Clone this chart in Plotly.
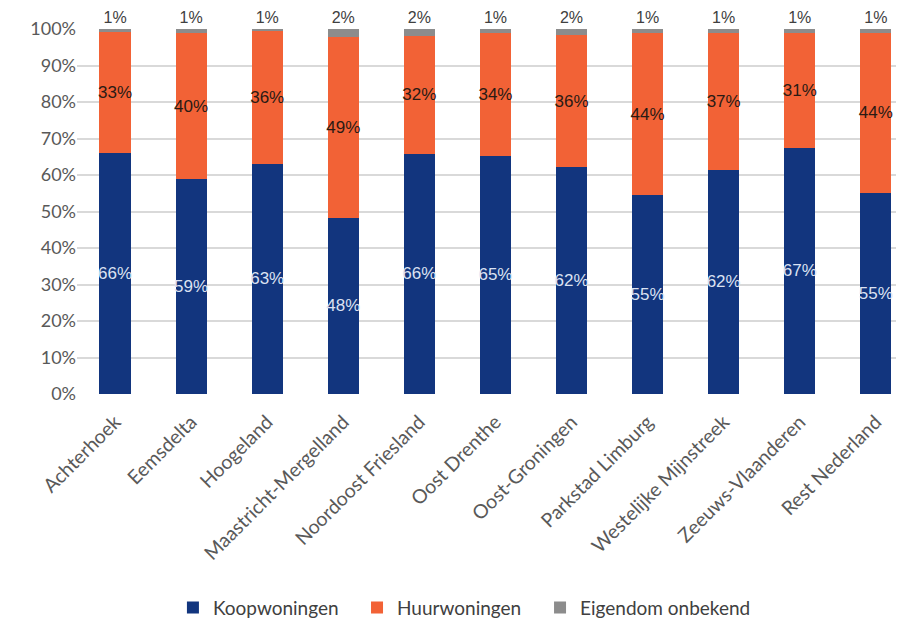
import plotly.graph_objects as go

categories = ["Achterhoek", "Eemsdelta", "Hoogeland", "Maastricht-Mergelland",
              "Noordoost Friesland", "Oost Drenthe", "Oost-Groningen",
              "Parkstad Limburg", "Westelijke Mijnstreek", "Zeeuws-Vlaanderen",
              "Rest Nederland"]
koop = [0.660, 0.589, 0.631, 0.483, 0.658, 0.653, 0.621, 0.545, 0.615, 0.674, 0.552]
huur = [0.332, 0.400, 0.363, 0.494, 0.324, 0.336, 0.363, 0.444, 0.374, 0.314, 0.437]
onbekend = [0.008, 0.011, 0.006, 0.023, 0.018, 0.011, 0.016, 0.011, 0.011, 0.012, 0.011]

series_names = ["Koopwoningen", "Huurwoningen", "Eigendom onbekend"]
colors = ["#12357E", "#F26236", "#8C8C8C"]

label_font = "Liberation Sans, Arial"
axis_font = "Lato, Open Sans, sans-serif"

fig = go.Figure()
fig.add_trace(go.Bar(
    x=categories, y=koop, name=series_names[0], marker_color=colors[0],
    texttemplate="%{y:.0%}", textposition="inside", insidetextanchor="middle",
    constraintext="none", textangle=0,
    textfont=dict(family=label_font, size=17, color="#DCE2F2"),
    marker_line_width=0, width=0.41, legend="legend",
))
fig.add_trace(go.Bar(
    x=categories, y=huur, name=series_names[1], marker_color=colors[1],
    texttemplate="%{y:.0%}", textposition="inside", insidetextanchor="middle",
    constraintext="none", textangle=0,
    textfont=dict(family=label_font, size=17, color="#2A1A14"),
    marker_line_width=0, width=0.41, legend="legend2",
))
fig.add_trace(go.Bar(
    x=categories, y=onbekend, name=series_names[2], marker_color=colors[2],
    texttemplate="%{y:.0%}", textposition="outside", constraintext="none", textangle=0,
    textfont=dict(family=label_font, size=16, color="#404040"),
    outsidetextfont=dict(family=label_font, size=16, color="#404040"),
    cliponaxis=False, marker_line_width=0, width=0.41, legend="legend3",
))

legend_style = dict(orientation="h", xanchor="left", y=-0.585, yanchor="middle",
                    font=dict(family=axis_font, size=19, color="#404040"),
                    itemwidth=30, bgcolor="rgba(0,0,0,0)")

fig.update_layout(
    barmode="stack",
    width=896, height=615,
    margin=dict(l=69, r=0, t=21, b=229, autoexpand=False),
    paper_bgcolor="white", plot_bgcolor="white",
    showlegend=True,
    legend=dict(x=0.116, **legend_style),
    legend2=dict(x=0.3386, **legend_style),
    legend3=dict(x=0.5599, **legend_style),
    font=dict(family=axis_font, color="#595959"),
)
fig.update_xaxes(
    range=[-0.5, 10.37], tickangle=-45, showgrid=False, showline=False,
    ticks="outside", ticklen=8, tickcolor="rgba(0,0,0,0)",
    automargin=False,
    tickfont=dict(family=axis_font, size=19.5, color="#595959"),
)
fig.update_yaxes(
    range=[0, 1], tickformat=".0%", dtick=0.1, showgrid=True, automargin=False,
    gridcolor="#D9D9D9", gridwidth=1.5, zeroline=False, showline=False, ticks="",
    tickfont=dict(family=axis_font, size=18, color="#595959"),
)

fig.write_html("out.html")
